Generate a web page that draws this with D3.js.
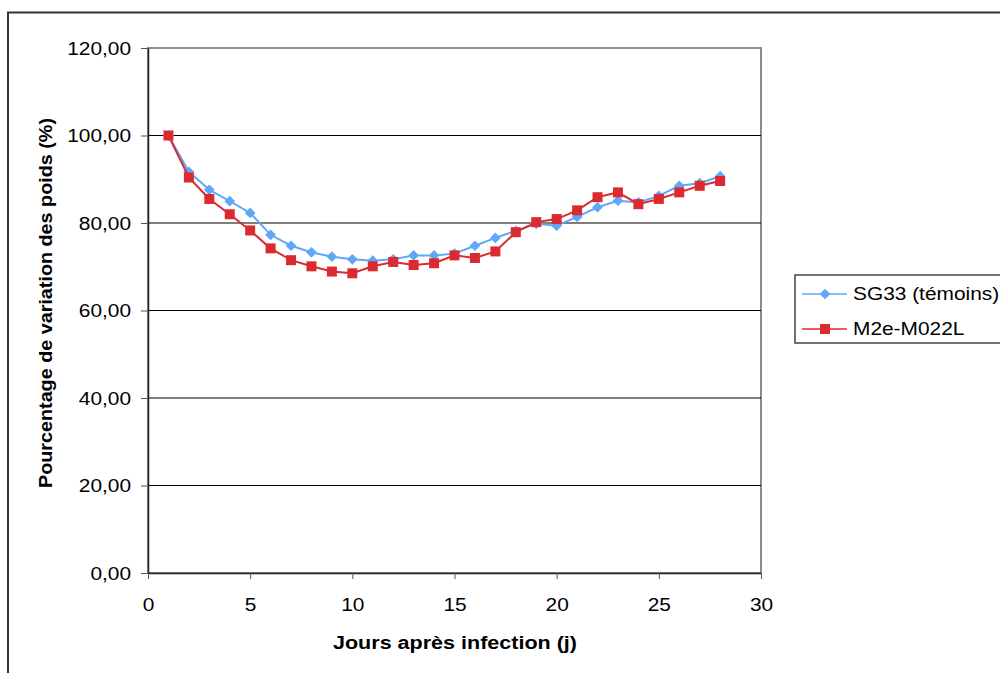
<!DOCTYPE html>
<html>
<head>
<meta charset="utf-8">
<script src="https://cdn.jsdelivr.net/npm/d3@7"></script>
<style>
  body { margin: 0; background: #fff; }
  text { font-family: "Liberation Sans", Arial, sans-serif; fill: #000; }
</style>
</head>
<body>
<div id="chart"></div>
<script>
// days after infection
const days = [1, 2, 3, 4, 5, 6, 7, 8, 9, 10, 11, 12, 13, 14, 15, 16, 17, 18, 19, 20, 21, 22, 23, 24, 25, 26, 27, 28];
// SG33 (témoins)
const sg33 = [100, 91.7, 87.6, 85.0, 82.3, 77.3, 74.8, 73.3, 72.3, 71.7, 71.4, 71.7, 72.6, 72.6, 73.0,
              74.8, 76.6, 78.2, 79.8, 79.4, 81.4, 83.6, 85.1, 84.7, 86.2, 88.5, 89.1, 90.7];
// M2e-M022L
const m2e = [100, 90.4, 85.5, 82.0, 78.3, 74.2, 71.5, 70.1, 68.9, 68.5, 70.1, 71.1, 70.4, 70.8, 72.6,
             72.0, 73.5, 77.9, 80.2, 80.9, 82.9, 85.9, 87.0, 84.3, 85.5, 87.0, 88.5, 89.6];
const yTicks = [0, 20, 40, 60, 80, 100, 120];
const xTicks = [0, 5, 10, 15, 20, 25, 30];
const seriesNames = ["SG33 (témoins)", "M2e-M022L"];

let width = 1000,
    height = 673,
    plotLeft = 148, plotRight = 761,
    plotTop = 48, plotBottom = 573,
    sx = 1.16,
    blue = "#5fa8f8",
    red = "#dc2a31";

let svg = d3.select("#chart").append("svg")
    .attr("width", width)
    .attr("height", height);

/* outer frame */
svg.append("rect")
    .attr("x", 8).attr("y", 12.5)
    .attr("width", 1100).attr("height", 800)
    .attr("fill", "none")
    .attr("stroke", "#333")
    .attr("stroke-width", 2);

/* Scale */
let xScale = d3.scaleLinear().domain([0, 30]).range([plotLeft, plotRight]);
let yScale = d3.scaleLinear().domain([0, 120]).range([plotBottom, plotTop]);

/* plot area border */
svg.append("rect")
    .attr("x", plotLeft).attr("y", plotTop)
    .attr("width", plotRight - plotLeft).attr("height", plotBottom - plotTop)
    .attr("fill", "none")
    .attr("stroke", "#8c8c8c")
    .attr("stroke-width", 2);

/* gridlines */
svg.append("g")
    .selectAll("line")
    .data(yTicks.filter(d => d > 0 && d < 120)).enter()
    .append("line")
    .attr("x1", plotLeft).attr("x2", plotRight)
    .attr("y1", d => yScale(d)).attr("y2", d => yScale(d))
    .attr("stroke", "#000")
    .attr("stroke-width", 1);

/* Axes */
let fmt = d => d3.format(".2f")(d).replace(".", ",");
let yAxis = d3.axisLeft(yScale).tickValues(yTicks).tickFormat(fmt).tickSizeInner(7).tickSizeOuter(0);
let xAxis = d3.axisBottom(xScale).tickValues(xTicks).tickFormat(d3.format("d")).tickSizeInner(6).tickSizeOuter(0);

let gy = svg.append("g")
    .attr("transform", `translate(${plotLeft},0)`)
    .call(yAxis);
gy.select(".domain").attr("stroke", "#222").attr("stroke-width", 1.5);
gy.selectAll(".tick line").attr("stroke", "#555");
gy.selectAll(".tick text")
    .attr("font-size", 18)
    .attr("font-family", "Liberation Sans, Arial, sans-serif")
    .attr("x", -17 / sx)
    .attr("dy", "0.35em")
    .attr("transform", `scale(${sx},1)`);

let gx = svg.append("g")
    .attr("transform", `translate(0,${plotBottom})`)
    .call(xAxis);
gx.select(".domain").attr("stroke", "#222").attr("stroke-width", 1.5);
gx.selectAll(".tick line").attr("stroke", "#555");
gx.selectAll(".tick text")
    .attr("font-size", 18)
    .attr("font-family", "Liberation Sans, Arial, sans-serif")
    .attr("y", 38)
    .attr("dy", 0)
    .attr("x", 0)
    .attr("transform", `scale(${sx},1)`);

/* axis titles */
svg.append("text")
    .attr("x", 455).attr("y", 649)
    .attr("text-anchor", "middle")
    .attr("font-size", 18)
    .attr("font-weight", "bold")
    .attr("textLength", 244)
    .attr("lengthAdjust", "spacingAndGlyphs")
    .text("Jours après infection (j)");

svg.append("text")
    .attr("transform", "translate(52,303) rotate(-90)")
    .attr("text-anchor", "middle")
    .attr("font-size", 18)
    .attr("font-weight", "bold")
    .attr("textLength", 370)
    .attr("lengthAdjust", "spacingAndGlyphs")
    .text("Pourcentage de variation des poids (%)");

/* Lines */
let line = d3.line()
    .x((d, i) => xScale(days[i]))
    .y(d => yScale(d));

svg.append("path")
    .attr("d", line(sg33))
    .attr("fill", "none")
    .attr("stroke", blue)
    .attr("stroke-width", 2);

svg.append("g")
    .selectAll("rect")
    .data(sg33).enter()
    .append("rect")
    .attr("x", -3.8).attr("y", -3.8)
    .attr("width", 7.6).attr("height", 7.6)
    .attr("fill", blue)
    .attr("transform", (d, i) => `translate(${xScale(days[i])},${yScale(d)}) rotate(45)`);

svg.append("path")
    .attr("d", line(m2e))
    .attr("fill", "none")
    .attr("stroke", red)
    .attr("stroke-width", 2);

svg.append("g")
    .selectAll("rect")
    .data(m2e).enter()
    .append("rect")
    .attr("x", (d, i) => xScale(days[i]) - 5)
    .attr("y", d => yScale(d) - 5)
    .attr("width", 10).attr("height", 10)
    .attr("fill", red);

/* Legend */
let legend = svg.append("g");
legend.append("rect")
    .attr("x", 795).attr("y", 275)
    .attr("width", 240).attr("height", 68)
    .attr("fill", "#fff")
    .attr("stroke", "#444")
    .attr("stroke-width", 1.5);

let rows = [
  { name: seriesNames[0], color: blue, y: 294, shape: "diamond" },
  { name: seriesNames[1], color: red, y: 329, shape: "square" }
];
rows.forEach(r => {
  legend.append("line")
      .attr("x1", 802).attr("x2", 847)
      .attr("y1", r.y).attr("y2", r.y)
      .attr("stroke", r.color)
      .attr("stroke-width", 1.5);
  if (r.shape === "diamond") {
    legend.append("rect")
        .attr("x", -3.8).attr("y", -3.8)
        .attr("width", 7.6).attr("height", 7.6)
        .attr("fill", r.color)
        .attr("transform", `translate(825,${r.y}) rotate(45)`);
  } else {
    legend.append("rect")
        .attr("x", 820).attr("y", r.y - 5)
        .attr("width", 10).attr("height", 10)
        .attr("fill", r.color);
  }
  legend.append("text")
      .attr("transform", `translate(853,${r.y}) scale(${sx},1)`)
      .attr("dy", "0.35em")
      .attr("font-size", 18)
      .text(r.name);
});
</script>
</body>
</html>
